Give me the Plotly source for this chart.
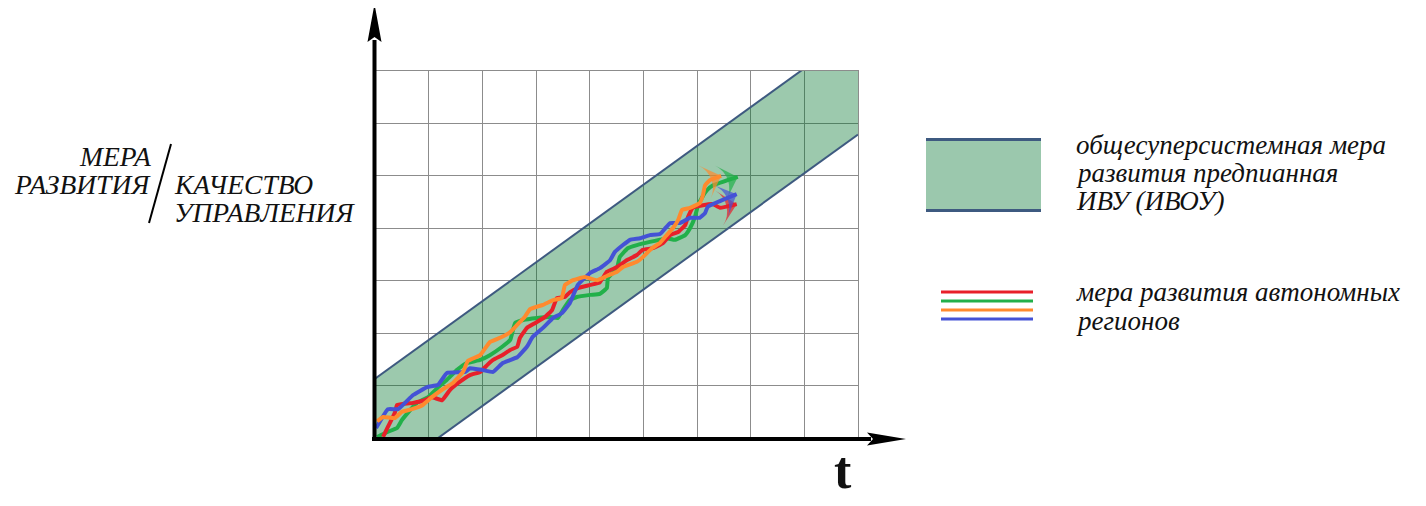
import plotly.graph_objects as go

# ---------------- data (t in grid units 0..9, measure in grid units 0..7) ----------------
T_MAX, Y_MAX = 9, 7

band_t = [0, 9]
band_upper = [1.13, 7.79]
band_lower = [-0.87, 5.79]

blue_t = [0.02, 0.24, 0.43, 0.71, 0.97, 1.17, 1.34, 1.68, 1.77, 1.99, 2.20, 2.38, 2.65, 2.83, 2.94,
          3.13, 3.32, 3.48, 3.63, 3.78, 4.01, 4.19, 4.38, 4.47, 4.62, 4.75, 4.94, 5.12, 5.31, 5.40,
          5.50, 5.68, 5.87, 6.05, 6.15, 6.20, 6.74]
blue_y = [0.19, 0.55, 0.55, 0.82, 0.97, 1.01, 1.24, 1.26, 1.33, 1.30, 1.26, 1.43, 1.54, 1.74, 1.93,
          2.10, 2.29, 2.38, 2.57, 2.92, 3.15, 3.24, 3.39, 3.55, 3.68, 3.78, 3.81, 3.87, 3.89, 3.99,
          4.10, 4.10, 4.20, 4.20, 4.29, 4.41, 4.65]

red_t = [0.15, 0.24, 0.37, 0.41, 0.71, 0.93, 1.06, 1.25, 1.40, 1.55, 1.77, 1.96, 2.09, 2.20, 2.37,
         2.52, 2.65, 2.70, 2.83, 2.98, 3.17, 3.30, 3.39, 3.54, 3.63, 3.78, 4.01, 4.19, 4.32, 4.51,
         4.69, 4.88, 4.99, 5.18, 5.37, 5.50, 5.65, 5.78, 5.83, 5.92, 6.11, 6.30, 6.43, 6.74]
red_y = [0.02, 0.21, 0.48, 0.63, 0.67, 0.72, 0.78, 0.72, 0.92, 1.05, 1.20, 1.26, 1.39, 1.49, 1.58,
         1.68, 1.74, 1.91, 2.10, 2.19, 2.31, 2.44, 2.67, 2.69, 2.78, 2.86, 2.92, 2.97, 3.17, 3.26,
         3.39, 3.49, 3.59, 3.62, 3.72, 3.87, 3.93, 4.06, 4.21, 4.39, 4.44, 4.46, 4.39, 4.46]

green_t = [0.04, 0.22, 0.41, 0.50, 0.61, 0.78, 0.99, 1.16, 1.34, 1.53, 1.71, 1.96, 2.14, 2.37, 2.52,
           2.61, 2.76, 3.02, 3.26, 3.41, 3.50, 3.63, 3.76, 4.01, 4.19, 4.32, 4.34, 4.51, 4.56, 4.71,
           4.88, 5.12, 5.31, 5.44, 5.59, 5.78, 5.87, 5.96, 6.02, 6.09, 6.19, 6.30, 6.76]
green_y = [0.02, 0.11, 0.19, 0.34, 0.48, 0.67, 0.78, 0.95, 1.11, 1.30, 1.43, 1.49, 1.58, 1.74, 1.87,
           2.19, 2.25, 2.29, 2.31, 2.29, 2.44, 2.63, 2.69, 2.73, 2.75, 2.86, 3.05, 3.24, 3.45, 3.62,
           3.68, 3.74, 3.78, 3.81, 3.78, 3.87, 4.00, 4.21, 4.44, 4.58, 4.73, 4.82, 4.98]

orange_t = [0.04, 0.15, 0.37, 0.50, 0.69, 0.89, 1.06, 1.25, 1.45, 1.64, 1.73, 1.96, 2.14, 2.37, 2.52,
            2.66, 2.79, 2.89, 3.13, 3.32, 3.48, 3.54, 3.69, 3.91, 4.14, 4.32, 4.51, 4.62, 4.88, 4.99,
            5.16, 5.31, 5.40, 5.55, 5.65, 5.72, 5.87, 6.05, 6.11, 6.15, 6.24, 6.45]
orange_y = [0.32, 0.40, 0.38, 0.50, 0.55, 0.63, 0.78, 0.92, 1.05, 1.26, 1.47, 1.58, 1.83, 1.93, 2.02,
            2.17, 2.31, 2.46, 2.54, 2.63, 2.67, 2.92, 3.01, 3.07, 3.01, 3.09, 3.17, 3.26, 3.36, 3.45,
            3.62, 3.72, 3.83, 4.00, 4.16, 4.35, 4.39, 4.48, 4.63, 4.82, 4.92, 5.00]

legend_band_text = ["общесуперсистемная мера", "развития предпианная", "ИВУ (ИВОУ)"]
legend_lines_text = ["мера развития автономных", "регионов"]
ylabel_left = ["МЕРА", "РАЗВИТИЯ"]
ylabel_right = ["КАЧЕСТВО", "УПРАВЛЕНИЯ"]
xlabel = "t"

# ---------------- styles ----------------
RED, GREEN, ORANGE, BLUE = "#E8202A", "#22B04A", "#FF8A2E", "#4452D6"
BAND_FILL = "rgba(0,115,45,0.39)"
BAND_LINE = "#3E5A80"
GRID = "#8c8c8c"
SERIF = "Liberation Serif"
TXT = "#111111"

OFF = 8                      # page body margin
W, H = 1426 - OFF, 506 - OFF
L, R, T, B = 375, 858, 71, 438   # plot area in page pixels


def px(x):
    return (x - L) / (R - L)


def py(y):
    return (B - y) / (B - T)


fig = go.Figure()

fig.add_trace(go.Scatter(x=band_t, y=band_lower, mode="lines",
                         line=dict(color=BAND_LINE, width=2), hoverinfo="skip"))
fig.add_trace(go.Scatter(x=band_t, y=band_upper, mode="lines", fill="tonexty",
                         fillcolor=BAND_FILL, line=dict(color=BAND_LINE, width=2), hoverinfo="skip"))


def region_trace(t, y, color):
    n = len(t)
    return go.Scatter(
        x=t, y=y, mode="lines+markers",
        line=dict(color=color, width=4, shape="spline", smoothing=0.3),
        marker=dict(symbol=["circle"] * (n - 1) + ["arrow-wide"],
                    size=[0] * (n - 1) + [25], angleref="previous",
                    color=color, line=dict(width=0)),
        hoverinfo="skip")


fig.add_trace(region_trace(green_t, green_y, GREEN))
fig.add_trace(region_trace(red_t, red_y, RED))
fig.add_trace(region_trace(blue_t, blue_y, BLUE))
fig.add_trace(region_trace(orange_t, orange_y, ORANGE))

shapes = []
shapes.append(dict(type="line", xref="paper", yref="paper", x0=px(374.5), x1=px(374.5),
                   y0=py(441), y1=py(40), line=dict(color="black", width=4)))
shapes.append(dict(type="line", xref="paper", yref="paper", x0=px(372), x1=px(871),
                   y0=py(439), y1=py(439), line=dict(color="black", width=4)))
shapes.append(dict(type="path", xref="paper", yref="paper",
                   path=f"M {px(374.5)},{py(4)} L {px(367.5)},{py(42)} L {px(374.5)},{py(37)} "
                        f"L {px(381.5)},{py(42)} Z",
                   fillcolor="black", line=dict(width=0)))
shapes.append(dict(type="path", xref="paper", yref="paper",
                   path=f"M {px(906)},{py(439)} L {px(867)},{py(432.5)} L {px(873)},{py(439)} "
                        f"L {px(867)},{py(445.5)} Z",
                   fillcolor="black", line=dict(width=0)))
shapes.append(dict(type="line", xref="paper", yref="paper", x0=px(171), x1=px(149),
                   y0=py(144), y1=py(223), line=dict(color="black", width=2)))
shapes.append(dict(type="rect", xref="paper", yref="paper", x0=px(926), x1=px(1041),
                   y0=py(212), y1=py(138), fillcolor="#9BC8AD", line=dict(width=0)))
for yy in (139.5, 210.5):
    shapes.append(dict(type="line", xref="paper", yref="paper", x0=px(926), x1=px(1041),
                       y0=py(yy), y1=py(yy), line=dict(color=BAND_LINE, width=3)))
for yy, c in zip((292, 301, 310, 319), (RED, GREEN, ORANGE, BLUE)):
    shapes.append(dict(type="line", xref="paper", yref="paper", x0=px(941), x1=px(1033),
                       y0=py(yy), y1=py(yy), line=dict(color=c, width=3)))

ann = []


def text(s, x, y, anchor, size=27, italic=True):
    ann.append(dict(text=s, xref="paper", yref="paper", x=px(x), y=py(y), xanchor=anchor,
                    yanchor="middle", showarrow=False,
                    font=dict(family=SERIF, size=size, color=TXT,
                              style="italic" if italic else "normal")))


for s, yy in zip(legend_band_text, (145, 173, 201)):
    text(s, 1074, yy, "left")
for s, yy in zip(legend_lines_text, (292, 321)):
    text(s, 1074, yy, "left")
text(ylabel_left[0], 153, 156, "right", size=27.5)
text(ylabel_left[1], 153, 184, "right", size=27.5)
text(ylabel_right[0], 172, 184, "left", size=27.5)
text(ylabel_right[1], 172, 212, "left", size=27.5)
text("<b>" + xlabel + "</b>", 843, 470, "center", size=52, italic=False)

fig.update_layout(
    width=W, height=H,
    margin=dict(l=L - OFF, r=W - (R - OFF), t=T - OFF, b=H - (B - OFF), pad=0),
    paper_bgcolor="white", plot_bgcolor="white",
    showlegend=False,
    shapes=shapes, annotations=ann,
    xaxis=dict(range=[0, T_MAX], dtick=1, tick0=0, showgrid=True, gridcolor=GRID, gridwidth=1,
               zeroline=False, showticklabels=False, ticks="", showline=True, mirror=True,
               linecolor=GRID, linewidth=1, fixedrange=True),
    yaxis=dict(range=[0, Y_MAX], dtick=1, tick0=0, showgrid=True, gridcolor=GRID, gridwidth=1,
               zeroline=False, showticklabels=False, ticks="", showline=True, mirror=True,
               linecolor=GRID, linewidth=1, fixedrange=True),
)

fig.write_html("out.html")
